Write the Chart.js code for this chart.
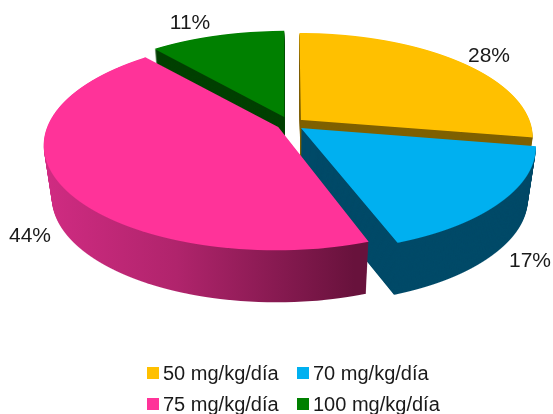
<!DOCTYPE html>
<html><head><meta charset="utf-8">
<style>html,body{margin:0;padding:0;background:#fff;overflow:hidden}#wrap{position:absolute;left:0;top:0;width:553px;height:414px}</style>
<script src="https://cdn.jsdelivr.net/npm/chart.js@4/dist/chart.umd.js"></script>
</head><body><div id="wrap"><canvas id="c" width="553" height="414"></canvas></div>
<script>
const categories = ['50 mg/kg/día','70 mg/kg/día','75 mg/kg/día','100 mg/kg/día'];
const shares = [27.7,16.7,44.4,11.2];
const percentLabels = ['28%','17%','44%','11%'];
const sliceColors = ['#FFC000','#00B0F0','#FF3399','#008000'];
const wallColors = ['#7F6000','#004A68',null,'#004000'];
const sliceOffsets = [45,45,44,54];
const labelSpots = [[489,56],[530,261],[30,236],[190,23]];
const legendSpots = [[147,373],[297,373],[147,404],[297,404]];

const CX=290, CY=124, A=230, RY_BACK=88, RY_FRONT=122, DEPTH=52;
const K=(RY_FRONT-RY_BACK)/(RY_FRONT+RY_BACK), B=RY_BACK*(1+K);

const pie3d = {
  id:'pie3d',
  beforeDatasetsDraw(chart){
    const ctx=chart.ctx, arcs=chart.getDatasetMeta(0).data;
    const paint=(arc,fill,dy,shrink)=>{
      const grow=1-Math.sin(Math.min(Math.PI,arc.circumference));
      const r=arc.outerRadius+(arc.options.offset||0)/4*grow;
      const shim=Object.create(arc);
      shim.options=Object.assign({},arc.options,{borderWidth:0,borderColor:'transparent'});
      for(let s=-104;s<150;s++){
        const m=s+0.5, v=m/(B+K*m), sx=A*(1+K*m/B)/r*shrink;
        const w=1-K*v, sy=B/(w*w)/r;
        shim.options.backgroundColor=typeof fill==='function'?fill(arc,sx):fill;
        ctx.save();
        ctx.beginPath();ctx.rect(0,CY+dy+s,553,1);ctx.clip();
        ctx.translate(CX,CY+dy+m);
        ctx.scale(sx,sy);
        ctx.translate(-arc.x,-(arc.y+v*r));
        shim.draw(ctx);
        ctx.restore();
      }
    };
    const pinkWall=(arc,sx)=>{
      const g=ctx.createLinearGradient(arc.x+(45-CX)/sx,0,arc.x+(368-CX)/sx,0);
      g.addColorStop(0,'#D32C84');g.addColorStop(.45,'#B0246C');g.addColorStop(1,'#68123C');
      return g;
    };
    [3,0,1,2].forEach(i=>{
      const f=wallColors[i]||pinkWall;
      for(let d=DEPTH;d>=1;d--) paint(arcs[i],f,d,1-0.033*d/DEPTH);
      paint(arcs[i],sliceColors[i],0,1);
    });
    return false;
  },
  afterDraw(chart){
    const ctx=chart.ctx;
    ctx.save();
    ctx.fillStyle='#1a1a1a';
    ctx.textBaseline='middle';
    ctx.font='21px "Liberation Sans", Arial, sans-serif';
    ctx.textAlign='center';
    percentLabels.forEach((t,i)=>ctx.fillText(t,labelSpots[i][0],labelSpots[i][1]));
    ctx.textAlign='left';
    ctx.font='20px "Liberation Sans", Arial, sans-serif';
    chart.data.labels.forEach((t,i)=>{
      const [x,y]=legendSpots[i];
      ctx.fillStyle=sliceColors[i];
      ctx.fillRect(x,y-6,12,12);
      ctx.fillStyle='#1a1a1a';
      ctx.fillText(t,x+16,y+1);
    });
    ctx.restore();
  }
};

new Chart(document.getElementById('c'),{
  type:'pie',
  data:{labels:categories,datasets:[{data:shares,backgroundColor:sliceColors,offset:sliceOffsets,borderWidth:0}]},
  options:{responsive:false,animation:false,rotation:0,
    plugins:{legend:{display:false},tooltip:{enabled:false}},
    layout:{padding:0}},
  plugins:[pie3d]
});
</script></body></html>
